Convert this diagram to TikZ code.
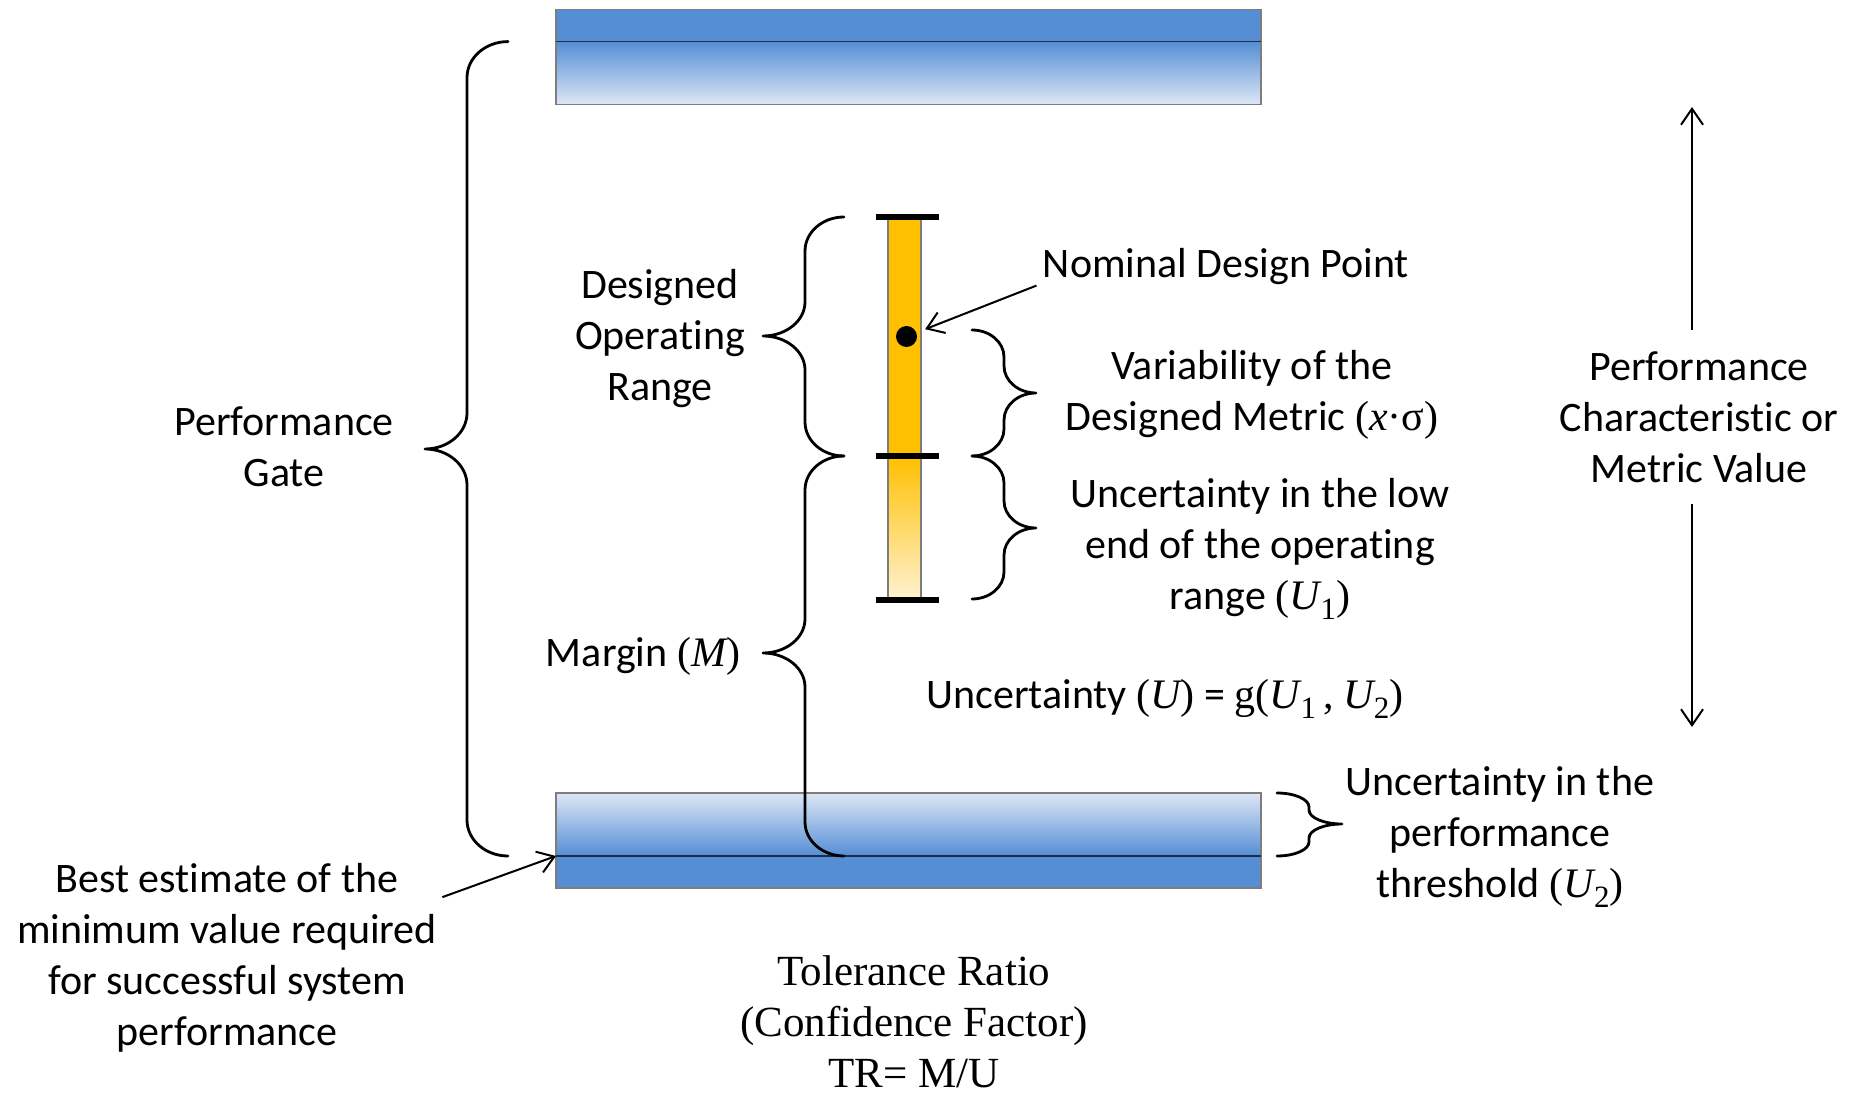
\documentclass[tikz,border=0pt]{standalone}
\usepackage{fontspec}
\setmainfont{Carlito}[Ligatures=NoCommon]
\newfontfamily\camfont{Liberation Serif}
\usetikzlibrary{arrows.meta}

\definecolor{gateBlue}{RGB}{85,142,213}
\definecolor{gateMid}{RGB}{198,212,240}
\definecolor{gateLight}{RGB}{222,230,245}
\definecolor{barEdge}{RGB}{125,125,125}
\definecolor{lineDark}{RGB}{30,45,70}
\definecolor{rangeOrange}{RGB}{255,192,0}
\definecolor{rangeMid}{RGB}{255,224,140}
\definecolor{rangeLight}{RGB}{255,242,210}

% serif symbols and italic variables for the formulas
\newcommand{\sym}[1]{{\camfont #1}}
\newcommand{\var}[1]{{\camfont\itshape #1}}
\newcommand{\vsub}[2]{\var{#1}\kern0.3pt\raisebox{-0.25em}{\camfont\fontsize{15.5}{15.5}\selectfont #2}}

\tikzset{
  lbl/.style={font=\fontsize{21}{25.5}\selectfont, align=center, inner sep=0pt},
  trlbl/.style={font=\camfont\fontsize{21.5}{25.5}\selectfont, align=center, inner sep=0pt},
  bracket/.style={line width=1.4pt, line cap=round, line join=round},
  pointer/.style={line width=1pt, -{Straight Barb[length=8pt,width=11pt]}},
  tickmark/.style={line width=2.6pt},
  baredge/.style={draw=barEdge, line width=0.6pt},
  divider/.style={draw=lineDark, line width=0.8pt},
  dotmark/.style={circle, fill=black, minimum size=10.5pt, inner sep=0pt},
}

% curly brace: style, x of ends, x of spine, x of tip, y top, y tip, y bottom, curl height
\newcommand{\curlybrace}[8]{%
  \draw[#1] (#2,#5)
    .. controls ({#2+0.552*(#3-#2)},#5) and (#3,{#5+0.448*#8}) .. (#3,{#5+#8})
    -- (#3,{#6-#8})
    .. controls (#3,{#6-0.448*#8}) and ({#4+0.552*(#3-#4)},#6) .. (#4,#6)
    .. controls ({#4+0.552*(#3-#4)},#6) and (#3,{#6+0.448*#8}) .. (#3,{#6+#8})
    -- (#3,{#7-#8})
    .. controls (#3,{#7-0.448*#8}) and ({#2+0.552*(#3-#2)},#7) .. (#2,#7);}

\begin{document}
\begin{tikzpicture}[x=0.5pt,y=-0.5pt]
\useasboundingbox (0,0) rectangle (1862,1095);

% upper gate bar
\fill[gateBlue] (556,9.5) rectangle (1261,41.6);
\shade[top color=gateBlue, middle color=gateMid, bottom color=gateLight] (556,41.6) rectangle (1261,104.5);
\draw[baredge] (556,9.5) rectangle (1261,104.5);
\draw[divider] (556,41.6) -- (1261,41.6);

% lower threshold bar
\shade[top color=gateLight, middle color=gateMid, bottom color=gateBlue] (556,793) rectangle (1261,856);
\fill[gateBlue] (556,856) rectangle (1261,888);
\draw[baredge] (556,793) rectangle (1261,888);
\draw[divider] (556,856) -- (1261,856);
\coordinate (minval) at (556,856);

% operating range column
\fill[rangeOrange] (888,217) rectangle (921,456);
\shade[top color=rangeOrange, middle color=rangeMid, bottom color=rangeLight] (888,456) rectangle (921,600);
\draw[baredge] (888,217) rectangle (921,600);
\draw[tickmark] (876,217) -- (939,217);
\draw[tickmark] (876,456) -- (939,456);
\draw[tickmark] (876,600) -- (939,600);
\node[dotmark] (dot) at (906.5,336.5) {};

% braces
\curlybrace{bracket}{508}{467}{425}{41.6}{449}{856}{36}
\curlybrace{bracket}{844}{805}{763}{217}{336}{456}{34}
\curlybrace{bracket}{844}{805}{763}{456}{653}{856}{34}
\curlybrace{bracket}{972}{1004}{1036}{330}{393}{456}{27}
\curlybrace{bracket}{972}{1004}{1036}{456}{528}{599}{27}
\curlybrace{bracket}{1277}{1309}{1342}{793}{824}{856}{14}

% labels
\node[lbl] (gate) at (284,447) {Performance\\Gate};
\node[lbl] (dor) at (660,339) {Designed\\Operating\\Range};
\node[lbl] (margin) at (643,656) {Margin \sym{(}\var{M}\sym{)}};
\node[lbl] (nominal) at (1226,267) {Nominal Design Point};
\node[lbl] (variab) at (1252,395) {Variability of the\\Designed Metric \sym{(}\var{x}\sym{·σ)}};
\node[lbl] (lowend) at (1260,549) {Uncertainty in the low\\end of the operating\\range \sym{(}\vsub{U}{1}\sym{)}};
\node[lbl] (unc) at (1165,699) {Uncertainty \sym{(}\var{U}\sym{)} = \sym{g(}\vsub{U}{1}\,\sym{,} \vsub{U}{2}\sym{)}};
\node[lbl] (thresh) at (1500,837) {Uncertainty in the\\performance\\threshold \sym{(}\vsub{U}{2}\sym{)}};
\node[lbl] (pcm) at (1699,417) {Performance\\Characteristic or\\Metric Value};
\node[lbl] (best) at (227,958) {Best estimate of the\\minimum value required\\for successful system\\performance};
\node[trlbl] (tolr) at (914,1022) {Tolerance Ratio\\(Confidence Factor)\\TR= M/U};

% pointers
\draw[pointer, shorten >=10pt] ([xshift=-3pt,yshift=0pt]nominal.south west) -- (dot.center);
\draw[pointer] ([xshift=2.5pt,yshift=-17pt]best.north east) -- (minval);

% value axis
\coordinate (axisHi) at (1692,107);
\coordinate (axisLo) at (1692,727);
\draw[pointer] ([yshift=10.5pt]pcm.north -| axisHi) -- (axisHi);
\draw[pointer] ([yshift=-10.5pt]pcm.south -| axisLo) -- (axisLo);
\end{tikzpicture}
\end{document}
